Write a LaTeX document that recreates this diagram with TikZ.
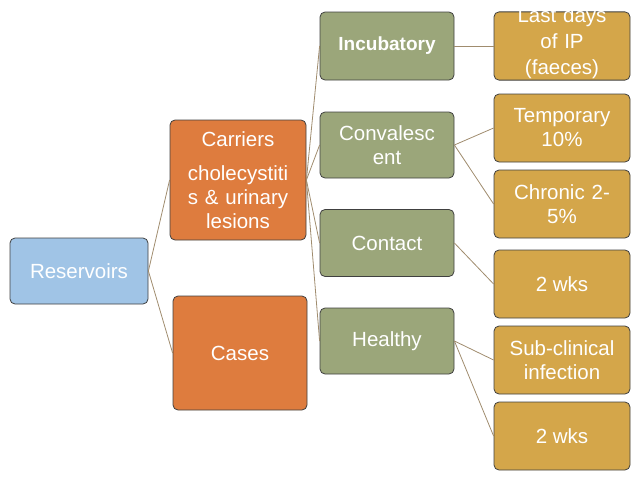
\documentclass[tikz,border=0pt]{standalone}
\usepackage{fontspec}
\setmainfont{Liberation Sans}
\begin{document}
\begin{tikzpicture}[x=1pt,y=-1pt,
  bx/.style={draw=black!75,line width=0.8pt,rounded corners=5pt,text=white,align=center,inner sep=1pt,font=\fontsize{20.5}{24}\selectfont},
  blu/.style={bx,fill={rgb,255:red,160;green,196;blue,230}},
  ora/.style={bx,fill={rgb,255:red,222;green,124;blue,62}},
  grn/.style={bx,fill={rgb,255:red,155;green,166;blue,122}},
  yel/.style={bx,fill={rgb,255:red,212;green,166;blue,74}},
  ln/.style={draw={rgb,255:red,160;green,140;blue,110},line width=0.8pt}]
\useasboundingbox (0,0) rectangle (638,479);
\node[blu,minimum width=138,minimum height=66] (res) at (79,271) {Reservoirs};
\node[ora,minimum width=136,minimum height=120,text width=134] (car) at (238,180) {Carriers\\[10pt]cholecystiti\\s \& urinary\\lesions};
\node[ora,minimum width=134,minimum height=114] (cas) at (240,353) {Cases};
\node[grn,minimum width=134,minimum height=68,font=\bfseries\fontsize{19}{21}\selectfont] (inc) at (387,46) {Incubatory};
\node[grn,minimum width=134,minimum height=66,text width=132] (con) at (387,145) {Convalesc\\ent\\[22pt]};
\node[grn,minimum width=134,minimum height=67] (cnt) at (387,243) {Contact};
\node[grn,minimum width=134,minimum height=66] (hea) at (387,341) {Healthy};
\node[yel,minimum width=136,minimum height=68,text width=134,font=\fontsize{20.5}{26}\selectfont] (y1) at (562,46) {\\[-16pt]Last days\\of IP\\(faeces)};
\node[yel,minimum width=136,minimum height=68,text width=134] (y2) at (562,128) {Temporary\\10\%};
\node[yel,minimum width=136,minimum height=68,text width=134] (y3) at (562,204) {Chronic 2-\\5\%};
\node[yel,minimum width=136,minimum height=68] (y4) at (562,284) {2 wks};
\node[yel,minimum width=136,minimum height=68,text width=134] (y5) at (562,360) {Sub-clinical\\infection};
\node[yel,minimum width=136,minimum height=68] (y6) at (562,436) {2 wks};
\foreach \a/\b in {res/car,res/cas,car/inc,car/con,car/cnt,car/hea,inc/y1,con/y2,con/y3,cnt/y4,hea/y5,hea/y6}
  \draw[ln] (\a.east) -- (\b.west);
\end{tikzpicture}
\end{document}
